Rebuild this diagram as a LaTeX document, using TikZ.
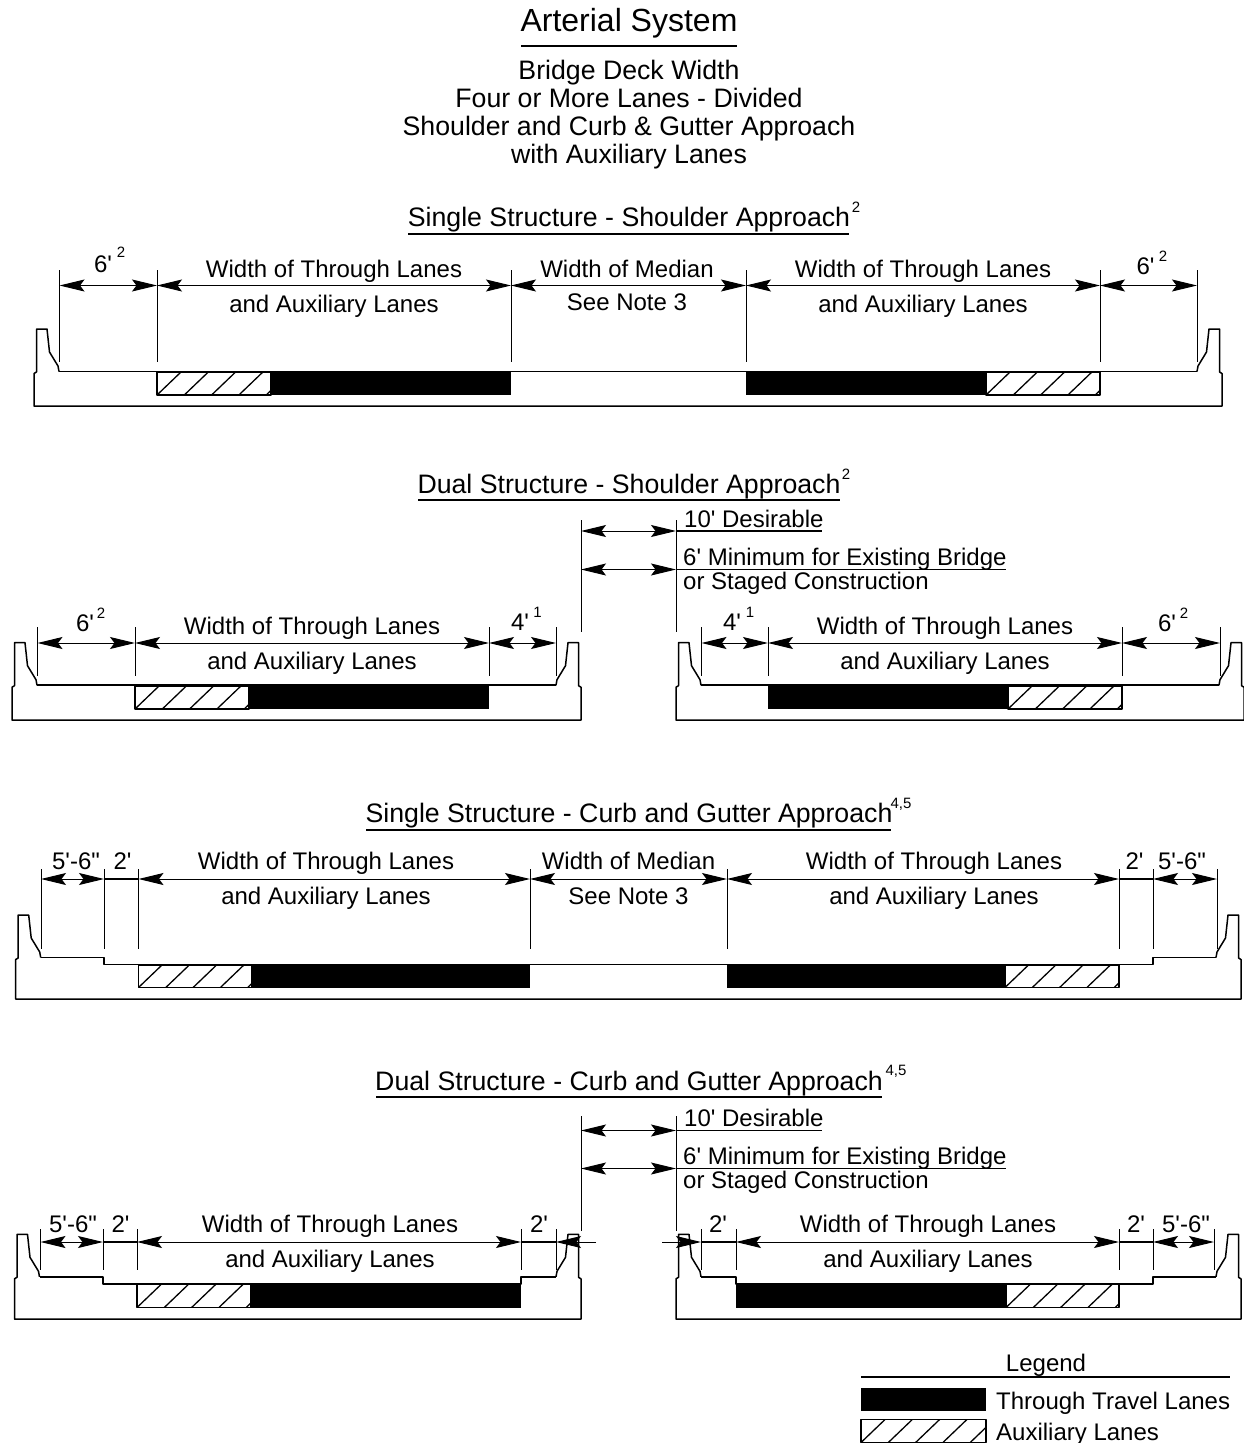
\documentclass[tikz,border=0pt]{standalone}
\usepackage{fontspec}
\usepackage{tikz}
\usetikzlibrary{arrows.meta}
\newfontfamily\arialfont{Liberation Sans}
\tikzset{
    every node/.style={inner sep=0pt, anchor=base},
    titletext/.style={font=\arialfont\fontsize{32}{34}\selectfont},
    subtext/.style={font=\arialfont\fontsize{26.7}{29}\selectfont},
    headtext/.style={font=\arialfont\fontsize{26.7}{29}\selectfont},
    dimtext/.style={font=\arialfont\fontsize{24}{26}\selectfont},
    notetext/.style={font=\arialfont\fontsize{24}{26}\selectfont, anchor=base west},
    legtext/.style={font=\arialfont\fontsize{24}{26}\selectfont},
    suptext/.style={font=\arialfont\fontsize{15}{17}\selectfont},
    ruleline/.style={line width=1.1pt},
    extline/.style={line width=1pt},
    hatchline/.style={line width=1.3pt},
    deckline/.style={line width=1.5pt, line join=round},
    dimline/.style={line width=1pt, <->, >={Stealth[length=25pt, width=12pt, inset=4.5pt]}},
    tipline/.style={line width=1pt, ->, >={Stealth[length=25pt, width=12pt, inset=4.5pt]}},
}
\begin{document}
\begin{tikzpicture}[x=1pt, y=-1pt]
    \useasboundingbox (0,0) rectangle (1244,1443);
    % Titles
    \node[titletext] (title) at (629,31) {Arterial System};
    \node[subtext] (sub1) at (629,79) {Bridge Deck Width};
    \node[subtext] (sub2) at (629,107.5) {Four or More Lanes - Divided};
    \node[subtext] (sub3) at (629,135.5) {Shoulder and Curb \& Gutter Approach};
    \node[subtext] (sub4) at (629,163.5) {with Auxiliary Lanes};
    \node[headtext] (head1) at (629,226) {Single Structure - Shoulder Approach};
    \node[suptext] (head1s) at (856,212) {2};
    \node[headtext] (head2) at (629,493) {Dual Structure - Shoulder Approach};
    \node[suptext] (head2s) at (846,479) {2};
    \node[headtext] (head3) at (629,822) {Single Structure - Curb and Gutter Approach};
    \node[suptext] (head3s) at (901,808) {4,5};
    \node[headtext] (head4) at (629,1090) {Dual Structure - Curb and Gutter Approach};
    \node[suptext] (head4s) at (896,1075) {4,5};
    \foreach \xa/\xb/\y in {521/737/46, 408/849/234, 418/840/500, 366/891/830, 376/882/1097, 861/1230/1377} {
        \draw[ruleline] (\xa,\y) -- (\xb,\y);
    }
    % Decks
    \foreach \xl/\xr/\yt/\yb in {34/1222/329/406, 12/581/642.7/720, 676/1244/642.7/720, 15.7/1241/915/999, 14.5/581/1234.3/1319, 676/1241/1234.3/1319} {
        \draw[deckline] ({\xl+25},{\yt+42.5}) -- ({\xl+24},{\yt+37}) -- ({\xl+15.5},{\yt+23}) -- ({\xl+13},\yt) -- ({\xl+2.5},\yt)
            -- ({\xl+2.5},{\yt+43}) -- (\xl,{\yt+44.5}) -- (\xl,\yb) -- (\xr,\yb) -- (\xr,{\yt+44.5}) -- ({\xr-2.5},{\yt+43})
            -- ({\xr-2.5},\yt) -- ({\xr-13},\yt) -- ({\xr-15.5},{\yt+23}) -- ({\xr-24},{\yt+37}) -- ({\xr-25},{\yt+42.5});
    }
    % Deck tops
    \draw[deckline] (59,371.5) -- (1197,371.5);
    \draw[deckline] (37,685.2) -- (556,685.2);
    \draw[deckline] (701,685.2) -- (1219,685.2);
    \draw[deckline] (40.7,957.5) -- (104,957.5) -- (104,964.5) -- (1153,964.5) -- (1153,957.5) -- (1216,957.5);
    \draw[deckline] (39.5,1276.8) -- (103,1276.8) -- (103,1284) -- (521,1284) -- (521,1276.8) -- (556,1276.8);
    \draw[deckline] (701,1276.8) -- (736,1276.8) -- (736,1284) -- (1153,1284) -- (1153,1276.8) -- (1216,1276.8);
    % Through lanes
    \foreach \xa/\xb/\ya/\yb in {271/511/372/395, 746/986/372/395, 249/489/686/709, 768/1008/686/709, 252/530/965/987.5, 727/1005/965/987.5, 251/521/1284/1307.5, 736/1006/1284/1307.5, 861/986/1388/1411} {
        \fill[black] (\xa,\ya) rectangle (\xb,\yb);
    }
    % Auxiliary lanes
    \foreach \xa/\xb/\ya/\yb in {157/271/372/395, 986/1100/372/395, 135/249/686/709, 1008/1122/686/709, 138.5/252/965/987.5, 1005/1119/965/987.5, 137/251/1284/1307.5, 1006/1119/1284/1307.5, 861/986/1419.5/1442.5} {
        \begin{scope}
            \clip (\xa,\ya) rectangle (\xb,\yb);
            \foreach \k in {0,...,5} {
                \draw[hatchline] ({\xa+27.3*\k},\yb) -- ++(24,-23);
            }
        \end{scope}
        \draw[deckline] (\xa,\ya) rectangle (\xb,\yb);
    }
    % Single structure, shoulder
    \foreach \n/\x in {a/59.5, b/157, c/511, d/746, e/1100, f/1197} {
        \coordinate (one\n) at (\x,285.5);
        \draw[extline] (\x,270) -- (\x,362);
    }
    \foreach \p/\q in {a/b, b/c, c/d, d/e, e/f} {
        \draw[dimline] (one\p) -- (one\q);
    }
    \node[dimtext] (onet1) at (103,272.5) {6'};
    \node[suptext] (onet1s) at (121,257) {2};
    \node[dimtext] (onet2) at (334,277.5) {Width of Through Lanes};
    \node[dimtext] (onet3) at (334,312) {and Auxiliary Lanes};
    \node[dimtext] (onet4) at (627,277.5) {Width of Median};
    \node[dimtext] (onet5) at (627,310) {See Note 3};
    \node[dimtext] (onet6) at (923,277.5) {Width of Through Lanes};
    \node[dimtext] (onet7) at (923,312) {and Auxiliary Lanes};
    \node[dimtext] (onet8) at (1145.5,274.5) {6'};
    \node[suptext] (onet8s) at (1163,261) {2};
    % Dual structure, shoulder
    \foreach \n/\x in {a/37.5, b/135, c/489, d/556, e/701.5, f/768, g/1122, h/1220} {
        \coordinate (two\n) at (\x,643);
        \draw[extline] (\x,627) -- (\x,676);
    }
    \foreach \p/\q in {a/b, b/c, c/d, e/f, f/g, g/h} {
        \draw[dimline] (two\p) -- (two\q);
    }
    \node[dimtext] (twot1) at (85,631) {6'};
    \node[suptext] (twot1s) at (101,618) {2};
    \node[dimtext] (twot2) at (312,634) {Width of Through Lanes};
    \node[dimtext] (twot3) at (312,669) {and Auxiliary Lanes};
    \node[dimtext] (twot4) at (520,630.5) {4'};
    \node[suptext] (twot4s) at (537.5,617) {1};
    \node[dimtext] (twot5) at (732,630.5) {4'};
    \node[suptext] (twot5s) at (750,617) {1};
    \node[dimtext] (twot6) at (945,634) {Width of Through Lanes};
    \node[dimtext] (twot7) at (945,669) {and Auxiliary Lanes};
    \node[dimtext] (twot8) at (1167,631) {6'};
    \node[suptext] (twot8s) at (1184,618) {2};
    % Gap between dual structures
    \foreach \name/\ya/\yb/\ra/\rb in {gapa/531/569.5/520/632, gapb/1130.5/1168.5/1116/1231} {
        \coordinate (\name l1) at (581,\ya);
        \coordinate (\name r1) at (676,\ya);
        \coordinate (\name e1) at (822,\ya);
        \coordinate (\name l2) at (581,\yb);
        \coordinate (\name r2) at (676,\yb);
        \coordinate (\name e2) at (1006,\yb);
        \draw[extline] (581,\ra) -- (581,\rb);
        \draw[extline] (676,\ra) -- (676,\rb);
        \draw[dimline] (\name l1) -- (\name r1);
        \draw[dimline] (\name l2) -- (\name r2);
        \draw[ruleline] (\name r1) -- (\name e1);
        \draw[ruleline] (\name r2) -- (\name e2);
    }
    \node[notetext] (gapa1) at (684,527) {10' Desirable};
    \node[notetext] (gapa2) at (683,565) {6' Minimum for Existing Bridge};
    \node[notetext] (gapa3) at (683,589.5) {or Staged Construction};
    \node[notetext] (gapb1) at (684,1126) {10' Desirable};
    \node[notetext] (gapb2) at (683,1164) {6' Minimum for Existing Bridge};
    \node[notetext] (gapb3) at (683,1188.5) {or Staged Construction};
    % Single structure, curb and gutter
    \foreach \n/\x in {a/41, b/104, c/138.5, d/530, e/727, f/1119, g/1153, h/1217} {
        \coordinate (three\n) at (\x,879);
        \draw[extline] (\x,869) -- (\x,949);
    }
    \foreach \p/\q in {a/b, c/d, d/e, e/f, g/h} {
        \draw[dimline] (three\p) -- (three\q);
    }
    \draw[ruleline] (threeb) -- (threec);
    \draw[ruleline] (threef) -- (threeg);
    \node[dimtext] (threet1) at (76,869.5) {5'-6"};
    \node[dimtext] (threet2) at (122.5,869.5) {2'};
    \node[dimtext] (threet3) at (326,869.5) {Width of Through Lanes};
    \node[dimtext] (threet4) at (326,904.5) {and Auxiliary Lanes};
    \node[dimtext] (threet5) at (628.5,869.5) {Width of Median};
    \node[dimtext] (threet6) at (628.5,904.5) {See Note 3};
    \node[dimtext] (threet7) at (934,869.5) {Width of Through Lanes};
    \node[dimtext] (threet8) at (934,904.5) {and Auxiliary Lanes};
    \node[dimtext] (threet9) at (1134.5,869.5) {2'};
    \node[dimtext] (threet10) at (1182,869.5) {5'-6"};
    % Dual structure, curb and gutter
    \foreach \n/\x in {a/40.5, b/103, c/137, d/521, e/556, f/701, g/736, h/1119, i/1153, j/1214} {
        \coordinate (four\n) at (\x,1242);
        \draw[extline] (\x,1229) -- (\x,1270);
    }
    \coordinate (fouro) at (596,1242);
    \coordinate (fourp) at (662,1242);
    \foreach \p/\q in {a/b, c/d, g/h, i/j} {
        \draw[dimline] (four\p) -- (four\q);
    }
    \draw[ruleline] (fourb) -- (fourc);
    \draw[ruleline] (fourd) -- (foure);
    \draw[tipline] (fouro) -- (foure);
    \draw[tipline] (fourp) -- (fourf);
    \draw[ruleline] (fourf) -- (fourg);
    \draw[ruleline] (fourh) -- (fouri);
    \node[dimtext] (fourt1) at (73,1232.5) {5'-6"};
    \node[dimtext] (fourt2) at (120.5,1232.5) {2'};
    \node[dimtext] (fourt3) at (330,1232.5) {Width of Through Lanes};
    \node[dimtext] (fourt4) at (330,1267.5) {and Auxiliary Lanes};
    \node[dimtext] (fourt5) at (539,1232.5) {2'};
    \node[dimtext] (fourt6) at (718,1232.5) {2'};
    \node[dimtext] (fourt7) at (928,1232.5) {Width of Through Lanes};
    \node[dimtext] (fourt8) at (928,1267.5) {and Auxiliary Lanes};
    \node[dimtext] (fourt9) at (1136,1232.5) {2'};
    \node[dimtext] (fourt10) at (1186,1232.5) {5'-6"};
    % Legend
    \node[legtext] (legend) at (1046,1371) {Legend};
    \node[legtext, anchor=base west] (legthru) at (996,1409.5) {Through Travel Lanes};
    \node[legtext, anchor=base west] (legaux) at (996,1440.5) {Auxiliary Lanes};
\end{tikzpicture}
\end{document}
